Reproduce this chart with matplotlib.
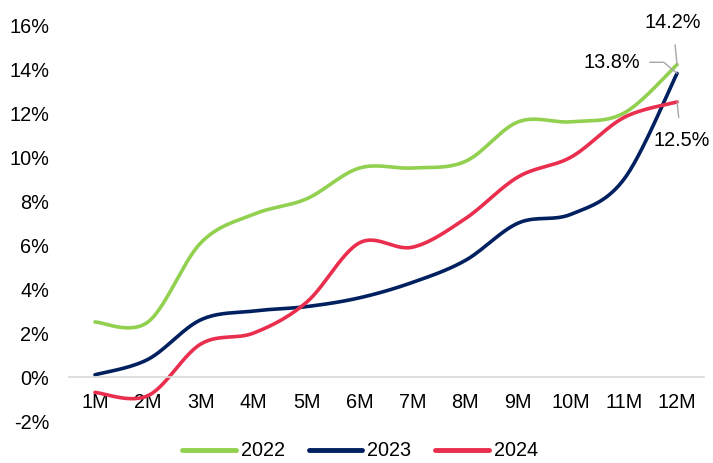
import numpy as np
import matplotlib
matplotlib.use("Agg")
import matplotlib.pyplot as plt

months = ["1M", "2M", "3M", "4M", "5M", "6M", "7M", "8M", "9M", "10M", "11M", "12M"]
s2022 = [2.5, 2.5, 6.1, 7.4, 8.1, 9.5, 9.5, 9.8, 11.6, 11.6, 12.0, 14.2]
s2023 = [0.1, 0.8, 2.6, 3.0, 3.2, 3.6, 4.3, 5.3, 7.0, 7.4, 9.0, 13.8]
s2024 = [-0.7, -0.85, 1.5, 2.0, 3.4, 6.1, 5.9, 7.2, 9.1, 10.0, 11.8, 12.5]
labels = ["2022", "2023", "2024"]
colors = ["#92D050", "#002060", "#EA2E4E"]

plt.rcParams['font.family'] = ['Liberation Sans', 'DejaVu Sans']
FS = 14.3

def smooth(xs, ys, n=30):
    xs = np.asarray(xs, float); ys = np.asarray(ys, float)
    P = np.column_stack([xs, ys])
    out = []
    for i in range(len(P) - 1):
        p0 = P[i - 1] if i > 0 else P[i]
        p1 = P[i]; p2 = P[i + 1]
        p3 = P[i + 2] if i + 2 < len(P) else P[i + 1]
        b1 = p1 + (p2 - p0) / 6.0
        b2 = p2 - (p3 - p1) / 6.0
        t = np.linspace(0, 1, n)[:, None]
        seg = ((1 - t) ** 3) * p1 + 3 * ((1 - t) ** 2) * t * b1 + 3 * (1 - t) * t ** 2 * b2 + t ** 3 * p2
        out.append(seg if i == 0 else seg[1:])
    out = np.vstack(out)
    return out[:, 0], out[:, 1]

fig = plt.figure(figsize=(7.13, 4.63), dpi=100)
ax = fig.add_axes([0.0961, 0.0907, 0.8906, 0.8553])
x = np.arange(1, len(months) + 1)
for s, lab, c in zip([s2022, s2023, s2024], labels, colors):
    sx, sy = smooth(x, s)
    ax.plot(sx, sy, color=c, lw=2.6, label=lab, solid_capstyle='round')

ax.set_xlim(0.5, 12.5)
ax.set_ylim(-2, 16)
ax.set_yticks(np.arange(-2, 17, 2))
ax.set_yticklabels([f"{v}%" for v in range(-2, 17, 2)])
ax.set_xticks(x)
ax.set_xticklabels(months)
for sp in ['top', 'right', 'left']:
    ax.spines[sp].set_visible(False)
ax.spines['bottom'].set_position(('data', 0))
ax.spines['bottom'].set_color('#D9D9D9')
ax.spines['bottom'].set_linewidth(1.2)
ax.tick_params(axis='x', length=0, pad=11.5, labelsize=FS)
ax.tick_params(axis='y', length=0, pad=14, labelsize=FS)

gray = '#A6A6A6'
ax.annotate(f"{s2022[-1]:.1f}%", xy=(12, s2022[-1]), xytext=(-3, 30), textcoords='offset points',
            ha='center', va='center', fontsize=FS,
            arrowprops=dict(arrowstyle='-', color=gray, lw=1, shrinkA=7, shrinkB=0))
ax.annotate(f"{s2023[-1]:.1f}%", xy=(12, s2023[-1]), xytext=(-47, 8), textcoords='offset points',
            ha='center', va='center', fontsize=FS,
            arrowprops=dict(arrowstyle='-', color=gray, lw=1, shrinkA=5, shrinkB=0,
                            connectionstyle='angle,angleA=0,angleB=140,rad=0'))
ax.annotate(f"{s2024[-1]:.1f}%", xy=(12, s2024[-1]), xytext=(3, -28), textcoords='offset points',
            ha='center', va='center', fontsize=FS,
            arrowprops=dict(arrowstyle='-', color=gray, lw=1, shrinkA=8, shrinkB=0))

leg = fig.legend(loc='center', bbox_to_anchor=(0.505, 0.026), ncol=3, frameon=False,
                 fontsize=FS, handlelength=2.7, columnspacing=1.2, handletextpad=0.25)
for h in leg.get_lines():
    h.set_linewidth(3.5)

fig.savefig("out.png", dpi=100)
